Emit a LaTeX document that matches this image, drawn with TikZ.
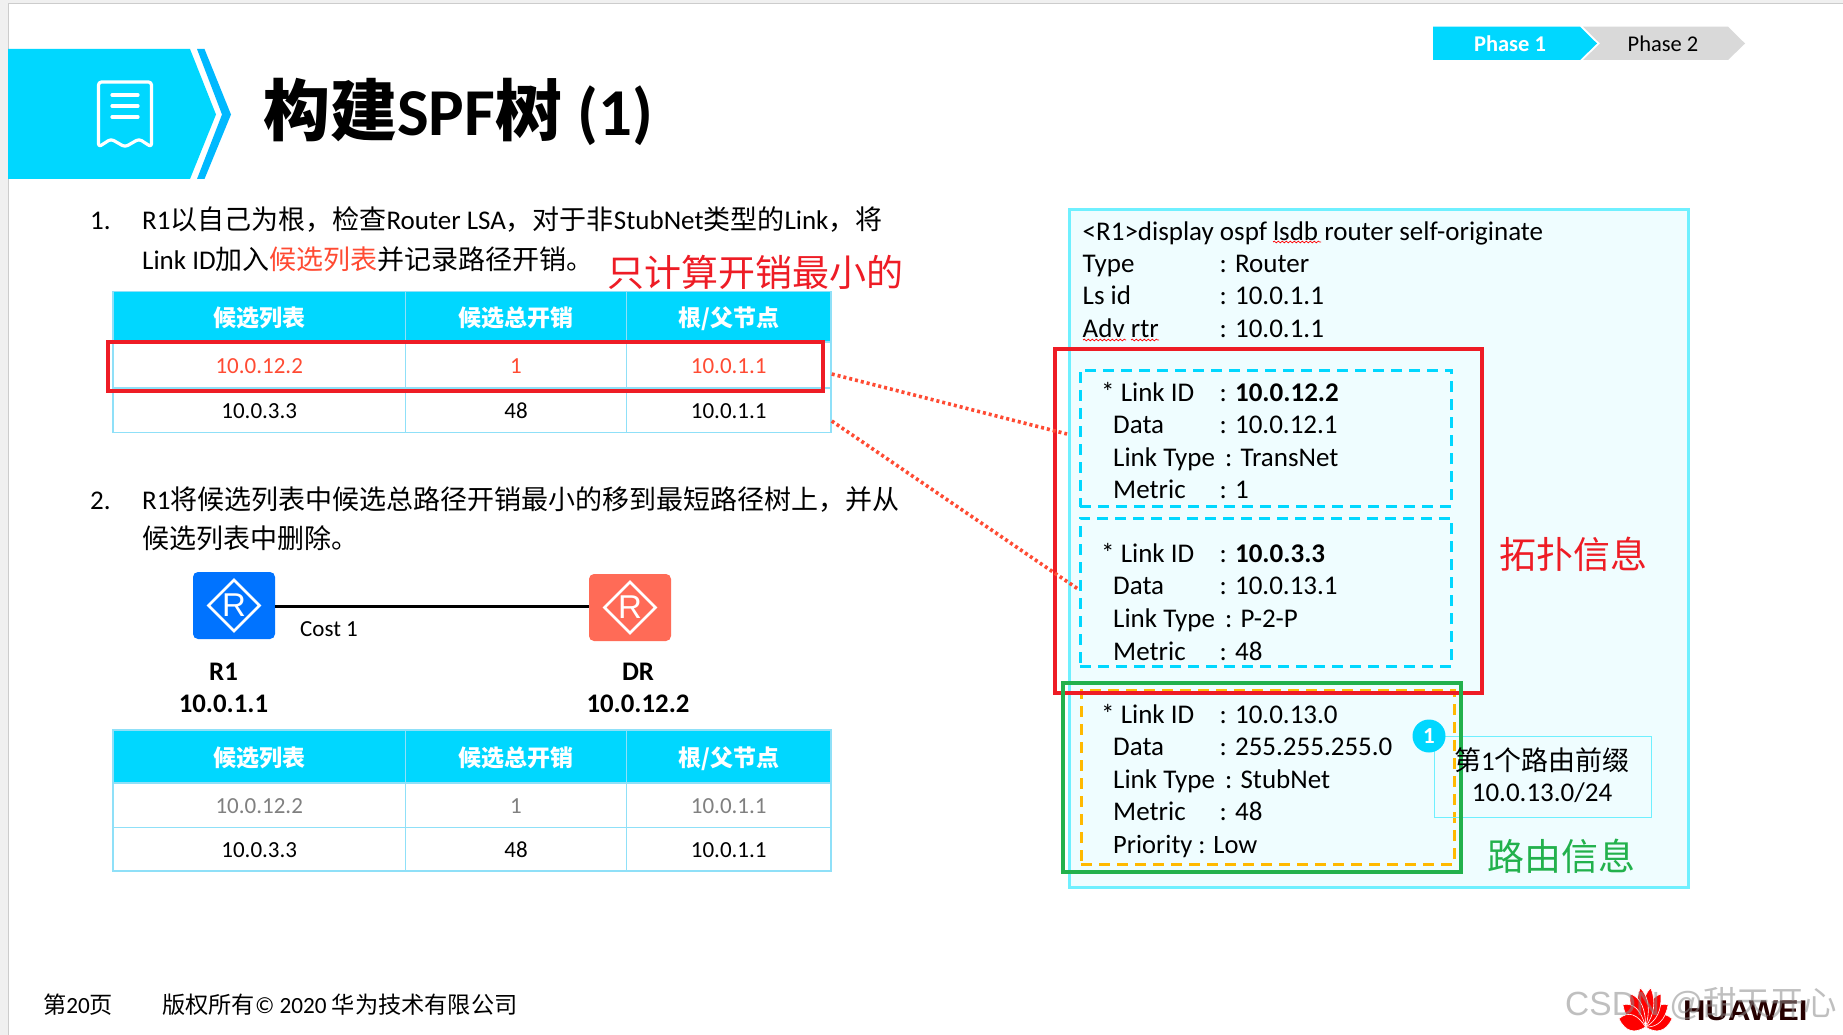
\documentclass[tikz,border=0pt]{standalone}
\usepackage{fontspec}
\setmainfont{Carlito}
\newfontfamily\cjk{Noto Sans CJK SC}
\newfontfamily\arialish{Liberation Sans}
\usetikzlibrary{shapes.geometric,decorations.pathmorphing}
\definecolor{hwcyan}{HTML}{00D7FF}
\definecolor{hwblue}{HTML}{00B9FF}
\definecolor{panelfill}{HTML}{EFFDFF}
\definecolor{panelline}{HTML}{6FF0FF}
\definecolor{tableline}{HTML}{8FE0F8}
\definecolor{redbox}{HTML}{EE1C25}
\definecolor{redtext}{HTML}{FF4B33}
\definecolor{greenbox}{HTML}{22B14C}
\definecolor{orangedash}{HTML}{FFB900}
\definecolor{routerblue}{HTML}{0073FF}
\definecolor{routerred}{HTML}{FF6B57}
\newcommand{\cn}[1]{{\cjk #1}}
\newcommand{\fsz}[1]{\fontsize{#1}{#1}\selectfont}
\tikzset{
 body/.style={inner sep=0pt,anchor=base west,font=\fsz{27}},
 hdr/.style={draw=tableline,line width=1.5pt,fill=hwcyan,text=white,inner sep=0pt,text height=20pt,text depth=0pt,font=\fsz{23}\bfseries\cjk},
 cell/.style={draw=tableline,line width=1.5pt,fill=white,inner sep=0pt,text height=16pt,text depth=0pt,font=\fsz{23}},
 router/.style={rounded corners=5pt,inner sep=0pt,minimum width=82pt,minimum height=67pt},
 rdiamond/.style={diamond,draw=white,line width=2.6pt,aspect=1,minimum size=52pt,inner sep=0pt,text=white,font=\arialish\fsz{33}},
 dashbox/.style={draw=hwcyan,line width=3pt,dash pattern=on 11pt off 7pt,inner sep=0pt},
 dotlink/.style={draw=redtext,line width=3.6pt,dash pattern=on 3pt off 3pt},
 squiggle/.style={draw=red,line width=.7pt,decorate,decoration={snake,amplitude=.9pt,segment length=4pt}},
 phasetxt/.style={inner sep=0pt,font=\fsz{22.5}},
 lbl/.style={inner sep=0pt,font=\fsz{26.8}\bfseries}
}
\begin{document}
\begin{tikzpicture}[x=1pt,y=-1pt]
\useasboundingbox (0,0) rectangle (1843,1035);
\fill[white] (0,0) rectangle (1843,1035);
\fill[black!6] (0,0) rectangle (8,1035);
\fill[black!6] (0,0) rectangle (1843,3.5);
\draw[black!20,line width=1pt] (8,1035) -- (8,4) -- (1843,4);

% header banner
\fill[hwcyan] (8,49) -- (190,49) -- (216,114.5) -- (190,179) -- (8,179) -- cycle;
\fill[hwblue] (197,49) -- (204.5,49) -- (231,114.5) -- (204.5,179) -- (197,179) -- (222,114.5) -- cycle;
\draw[white,line width=3.2pt,line join=round,rounded corners=3pt] (98.5,82) -- (151.5,82) -- (151.5,147) -- (139,139) -- (125,147) -- (111,139) -- (98.5,147) -- cycle;
\draw[white,line width=3.2pt,line cap=round] (112,95) -- (138,95) (112,106) -- (138,106) (112,117) -- (138,117);
\node[inner sep=0pt,anchor=base west,font=\fsz{67}\bfseries] (title) at (263,136) {\cn{构建}SPF\cn{树} (1)};

% phase tabs
\fill[hwcyan] (1433,26.7) -- (1580,26.7) -- (1597,43.5) -- (1580,60) -- (1433,60) -- cycle;
\fill[black!15] (1583,26.7) -- (1728,26.7) -- (1745,43.5) -- (1728,60) -- (1583,60) -- (1600,43.5) -- cycle;
\node[phasetxt,text=white,font=\fsz{22.5}\bfseries] (ph1) at (1510,44) {Phase 1};
\node[phasetxt] (ph2) at (1663,44) {Phase 2};

% paragraph text
\node[body] (n1) at (90,229) {1.};
\node[body] (l1) at (142,229) {R1\cn{以自己为根，检查}Router LSA\cn{，对于非}StubNet\cn{类型的}Link\cn{，将}};
\node[body] (l2) at (142,269) {Link ID\cn{加入}\textcolor{redtext}{\cn{候选列表}}\cn{并记录路径开销。}};
\node[inner sep=0pt,text=redbox,font=\fsz{37}\cjk] (note) at (755.5,272.5) {只计算开销最小的};
\node[body] (n2) at (90,509) {2.};
\node[body] (l3) at (142,509) {R1\cn{将候选列表中候选总路径开销最小的移到最短路径树上，并从}};
\node[body] (l4) at (142,548) {\cn{候选列表中删除。}};

% table 1
\node[hdr,minimum width=292.5pt,minimum height=50.5pt] (ah1) at (259.25,316.75) {候选列表};
\node[hdr,minimum width=221pt,minimum height=50.5pt] (ah2) at (516,316.75) {候选总开销};
\node[hdr,minimum width=204.5pt,minimum height=50.5pt] (ah3) at (728.75,316.75) {根/父节点};
\node[cell,text=redtext,minimum width=292.5pt,minimum height=46pt] (a11) at (259.25,365) {10.0.12.2};
\node[cell,text=redtext,minimum width=221pt,minimum height=46pt] (a12) at (516,365) {1};
\node[cell,text=redtext,minimum width=204.5pt,minimum height=46pt] (a13) at (728.75,365) {10.0.1.1};
\node[cell,minimum width=292.5pt,minimum height=44.5pt] (a21) at (259.25,410.25) {10.0.3.3};
\node[cell,minimum width=221pt,minimum height=44.5pt] (a22) at (516,410.25) {48};
\node[cell,minimum width=204.5pt,minimum height=44.5pt] (a23) at (728.75,410.25) {10.0.1.1};
\node[draw=redbox,line width=4pt,minimum width=715pt,minimum height=49pt,inner sep=0pt] (sel) at (465.5,366.5) {};

% routers
\node[router,fill=routerblue] (r1) at (234,605.5) {};
\node[rdiamond] (r1d) at (r1.center) {R};
\node[router,fill=routerred] (dr) at (630,607.5) {};
\node[rdiamond] (drd) at (dr.center) {R};
\draw[black,line width=3pt] (r1.east |- 0,606.5) -- (dr.west |- 0,606.5);
\node[inner sep=0pt,anchor=base west,font=\fsz{23}] (cost) at (300,636) {Cost 1};
\node[lbl] (r1a) at (223.5,672) {R1};
\node[lbl] (r1b) at (223.5,704) {10.0.1.1};
\node[lbl] (dra) at (638,672) {DR};
\node[lbl] (drb) at (638,704) {10.0.12.2};

% table 2
\node[hdr,minimum width=292.5pt,minimum height=53pt] (bh1) at (259.25,756.5) {候选列表};
\node[hdr,minimum width=221pt,minimum height=53pt] (bh2) at (516,756.5) {候选总开销};
\node[hdr,minimum width=204.5pt,minimum height=53pt] (bh3) at (728.75,756.5) {根/父节点};
\node[cell,text=black!50,minimum width=292.5pt,minimum height=44.5pt] (b11) at (259.25,805.25) {10.0.12.2};
\node[cell,text=black!50,minimum width=221pt,minimum height=44.5pt] (b12) at (516,805.25) {1};
\node[cell,text=black!50,minimum width=204.5pt,minimum height=44.5pt] (b13) at (728.75,805.25) {10.0.1.1};
\node[cell,minimum width=292.5pt,minimum height=43.5pt] (b21) at (259.25,849.25) {10.0.3.3};
\node[cell,minimum width=221pt,minimum height=43.5pt] (b22) at (516,849.25) {48};
\node[cell,minimum width=204.5pt,minimum height=43.5pt] (b23) at (728.75,849.25) {10.0.1.1};

% right panel
\node[draw=panelline,fill=panelfill,line width=3pt,minimum width=618.5pt,minimum height=678pt,inner sep=0pt] (panel) at (1378.75,548) {};
\node[body] (p1) at (1082.5,240) {<R1>display ospf lsdb router self-originate};
\node[body] (p2) at (1082.5,272) {Type};
\node[body] (p2v) at (1219.5,272) {: Router};
\node[body] (p3) at (1082.5,304) {Ls id};
\node[body] (p3v) at (1219.5,304) {: 10.0.1.1};
\node[body] (p4) at (1082.5,337) {Adv rtr};
\node[body] (p4v) at (1219.5,337) {: 10.0.1.1};
\draw[squiggle] (1273,242) -- (1321,242);
\draw[squiggle] (1083,340) -- (1126,340);
\draw[squiggle] (1131,340) -- (1159,340);

% link block 1
\node[dashbox,minimum width=371.6pt,minimum height=136.6pt] (d1) at (1265.8,438.3) {};
\node[body] (a1k) at (1101,401) {* Link ID};
\node[body] (a1v) at (1219.5,401) {: \textbf{10.0.12.2}};
\node[body] (a2k) at (1113,433) {Data};
\node[body] (a2v) at (1219.5,433) {: 10.0.12.1};
\node[body] (a3k) at (1113,466) {Link Type};
\node[body] (a3v) at (1225,466) {: TransNet};
\node[body] (a4k) at (1113,498) {Metric};
\node[body] (a4v) at (1219.5,498) {: 1};

% link block 2
\node[dashbox,minimum width=371.6pt,minimum height=148.5pt] (d2) at (1265.8,592.25) {};
\node[body] (b1k) at (1101,562) {* Link ID};
\node[body] (b1v) at (1219.5,562) {: \textbf{10.0.3.3}};
\node[body] (b2k) at (1113,594) {Data};
\node[body] (b2v) at (1219.5,594) {: 10.0.13.1};
\node[body] (b3k) at (1113,627) {Link Type};
\node[body] (b3v) at (1225,627) {: P-2-P};
\node[body] (b4k) at (1113,660) {Metric};
\node[body] (b4v) at (1219.5,660) {: 48};

% link block 3
\node[dashbox,draw=orangedash,minimum width=373pt,minimum height=174pt] (d3) at (1267.5,777) {};
\node[body] (c1k) at (1101,723) {* Link ID};
\node[body] (c1v) at (1219.5,723) {: 10.0.13.0};
\node[body] (c2k) at (1113,755) {Data};
\node[body] (c2v) at (1219.5,755) {: 255.255.255.0};
\node[body] (c3k) at (1113,788) {Link Type};
\node[body] (c3v) at (1225,788) {: StubNet};
\node[body] (c4k) at (1113,820) {Metric};
\node[body] (c4v) at (1219.5,820) {: 48};
\node[body,font=\fsz{26.5}] (c5k) at (1113,853) {Priority : Low};

% highlight frames
\node[draw=redbox,line width=4pt,minimum width=427pt,minimum height=344.5pt,inner sep=0pt] (topo) at (1268,521) {};
\node[draw=panelline,line width=1pt,minimum width=217pt,minimum height=81pt,inner sep=0pt] (prefix) at (1542.5,776.5) {};
\node[draw=greenbox,line width=4pt,minimum width=398.5pt,minimum height=189pt,inner sep=0pt] (route) at (1261.75,777.5) {};
\node[inner sep=0pt,font=\fsz{27}] (pre1) at (1542,760) {\cn{第}1\cn{个路由前缀}};
\node[inner sep=0pt,font=\fsz{27}] (pre2) at (1542,793) {10.0.13.0/24};
\node[circle,fill=hwcyan,text=white,inner sep=0pt,minimum size=33pt,font=\fsz{23}\bfseries] (badge) at (1429,736) {1};
\node[inner sep=0pt,text=redbox,font=\fsz{37}\cjk] (ltopo) at (1573,554) {拓扑信息};
\node[inner sep=0pt,text=greenbox,font=\fsz{37}\cjk] (lroute) at (1561,856) {路由信息};

% dotted links
\coordinate (e1) at (1067,434);
\coordinate (e2) at (1078,589);
\draw[dotlink] (a13.east |- 0,374) -- (e1);
\draw[dotlink] (a23.east |- 0,421) -- (e2);

% footer
\node[inner sep=0pt,anchor=base west,font=\fsz{23.2}] (pg) at (43,1013) {\cn{第}20\cn{页}};
\node[inner sep=0pt,anchor=base west,font=\fsz{23.2}] (cr) at (162,1013) {\cn{版权所有}© 2020 \cn{华为技术有限公司}};

% logo
\begin{scope}[shift={(1645.5,1027)},xscale=.68]
\foreach \a in {-78,-56,-34,-11,11,34,56,78}
 \fill[red,draw=white,line width=.6pt,rotate=\a] (0,0) .. controls (-10,-14) and (-11,-28) .. (0,-40) .. controls (11,-28) and (10,-14) .. (0,0) -- cycle;
\end{scope}
\node[inner sep=0pt,anchor=base west,text=black!85!red,font=\arialish\fsz{28.5}\bfseries] (hw) at (1683,1020) {\scalebox{1.09}[1]{HUAWEI}};
\node[inner sep=0pt,anchor=base west,text=black!45,opacity=.55,font=\arialish\fsz{33.5}] (wm) at (1565,1015) {CSDN @\cn{甜天开心}};
\end{tikzpicture}
\end{document}
